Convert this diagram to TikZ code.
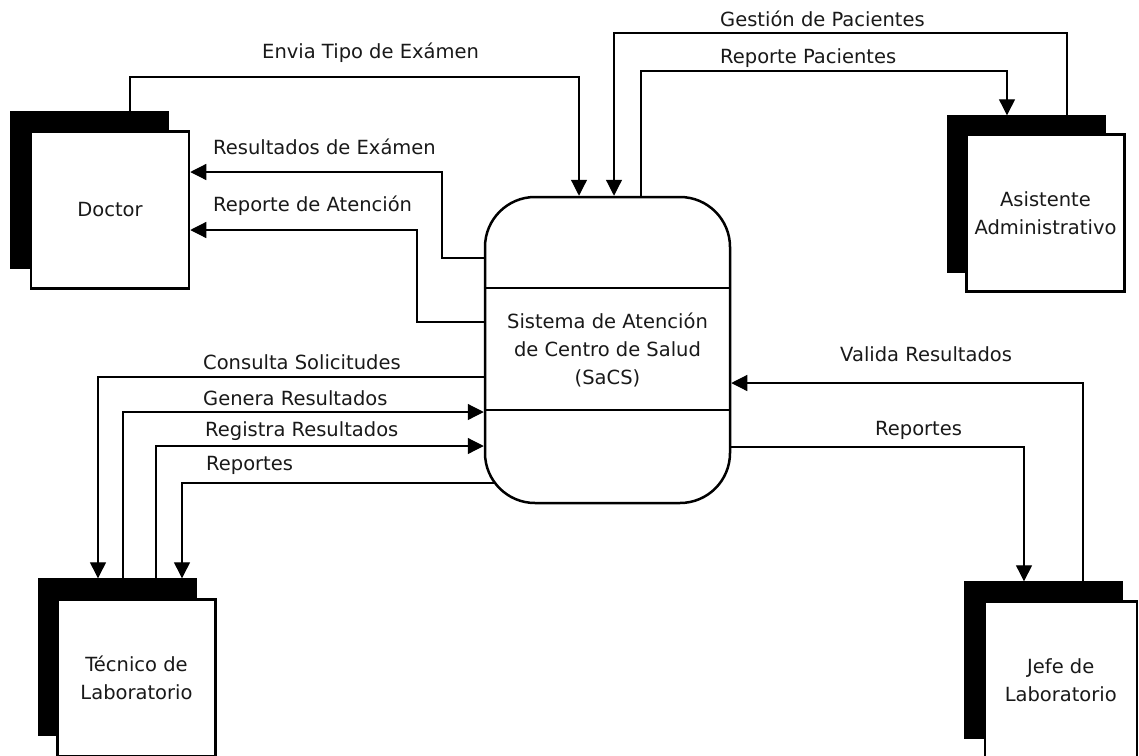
\documentclass[tikz,border=0pt]{standalone}
\usepackage{fontspec}
\setmainfont{DejaVu Sans}
\usetikzlibrary{arrows.meta}
\begin{document}
\begin{tikzpicture}[x=1pt,y=-1pt,
  txt/.style={font=\fontsize{19.5}{28}\selectfont, text=black!90},
  entity/.style={txt, draw, line width=2.5pt, fill=white, inner sep=0pt,
    minimum width=158pt, minimum height=157pt, align=center},
  entshadow/.style={fill=black, draw=black, inner sep=0pt,
    minimum width=158pt, minimum height=157pt},
  process/.style={txt, draw, line width=2.5pt, fill=white, rounded corners=50pt,
    minimum width=245pt, minimum height=306pt, align=center, inner sep=0pt},
  flow/.style={line width=1.2pt, -{Triangle[length=16pt,width=16pt]}},
  lbl/.style={txt, anchor=west, inner sep=0pt}]

\useasboundingbox (0,0) rectangle (1139,755);
\clip (0,0) rectangle (1139,755);
\fill[white] (0,0) rectangle (1139,755);

% external entities: black offset block behind a white box
\node[entshadow] (doctorS) at (89.5,190) {};
\node[entity] (doctor) at (110,210) {Doctor};

\node[entshadow] (asisS) at (1026,194) {};
\node[entity] (asis) at (1045.5,213) {Asistente\\Administrativo};

\node[entshadow] (tecS) at (117,657) {};
\node[entity] (tec) at (136.5,678) {Técnico de\\Laboratorio};

\node[entshadow] (jefeS) at (1043.5,660) {};
\node[entity, minimum width=152pt] (jefe) at (1060.75,680) {Jefe de\\Laboratorio};

% central process
\node[process] (sacs) at (607.5,350) {Sistema de Atención\\de Centro de Salud\\(SaCS)};
\draw[line width=2.5pt] (sacs.west |- 0,288) -- (sacs.east |- 0,288);
\draw[line width=2.5pt] (sacs.west |- 0,410) -- (sacs.east |- 0,410);

% Doctor flows
\draw[flow] (doctorS.north -| 130,0) |- (579,77) -- (sacs.north -| 579,0);
\draw[flow] (sacs.west |- 0,258) -| (442,172) -- (doctor.east |- 0,172);
\draw[flow] (sacs.west |- 0,322) -| (417,230) -- (doctor.east |- 0,230);
\node[lbl] (l1) at (262,53) {Envia Tipo de Exámen};
\node[lbl] (l2) at (213,147) {Resultados de Exámen};
\node[lbl] (l3) at (213,206) {Reporte de Atención};

% Asistente flows
\draw[flow] (asisS.north -| 1067,0) |- (614,33) -- (sacs.north -| 614,0);
\draw[flow] (sacs.north -| 641,0) |- (1007,71) -- (asisS.north -| 1007,0);
\node[lbl] (l4) at (720,19) {Gestión de Pacientes};
\node[lbl] (l5) at (720,58) {Reporte Pacientes};

% Técnico flows
\coordinate (tecR) at (496,483);
\draw[flow] (sacs.west |- 0,377) -| (tecS.north -| 98,0);
\draw[flow] (tecS.north -| 123,0) |- (sacs.west |- 0,412);
\draw[flow] (tecS.north -| 156,0) |- (sacs.west |- 0,446);
\draw[flow] (tecR) -| (tecS.north -| 182,0);
\node[lbl] (l6) at (203,362) {Consulta Solicitudes};
\node[lbl] (l7) at (203,398) {Genera Resultados};
\node[lbl] (l8) at (205,431) {Registra Resultados};
\node[lbl] (l9) at (206,465) {Reportes};

% Jefe flows
\draw[flow] (jefeS.north -| 1083,0) |- (sacs.east |- 0,383);
\draw[flow] (sacs.east |- 0,447) -| (jefeS.north -| 1024,0);
\node[lbl] (l10) at (840,354) {Valida Resultados};
\node[lbl] (l11) at (875,430) {Reportes};
\end{tikzpicture}
\end{document}
